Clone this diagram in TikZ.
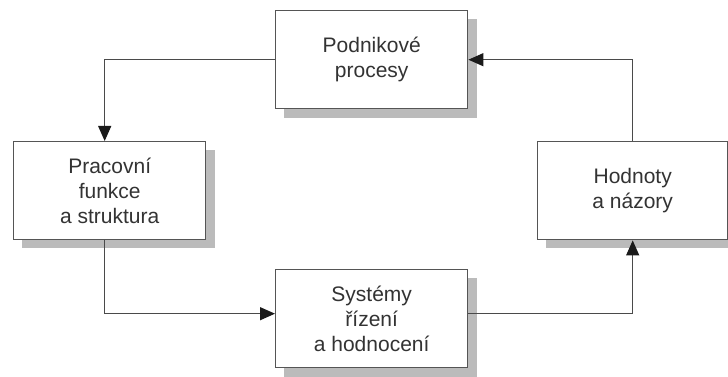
\documentclass[tikz,border=0pt]{standalone}
\usepackage{fontspec}
\setmainfont{Liberation Sans}
\usetikzlibrary{arrows.meta,calc}
\definecolor{edgegray}{HTML}{555555}
\definecolor{linegray}{HTML}{4A4A4A}
\definecolor{tipgray}{HTML}{1A1A1A}
\definecolor{shadowgray}{HTML}{BBBBBB}
\definecolor{textgray}{HTML}{333333}
\begin{document}
\begin{tikzpicture}[x=1pt,y=-1pt,
  box/.style={draw=edgegray,line width=1.4pt,fill=white,minimum width=192pt,
    minimum height=98pt,inner sep=0pt,align=center,text=textgray,
    font=\fontsize{21}{25}\selectfont,anchor=north west},
  shade/.style={fill=shadowgray,draw=none},
  flow/.style={draw=linegray,line width=1.2pt,
    -{Triangle[length=15pt,width=13pt,color=tipgray]}}]
  \useasboundingbox (0,0) rectangle (728,377);
  % drop shadows
  \fill[shade] (284,19) rectangle (477,118);
  \fill[shade] (22,150) rectangle (215,248);
  \fill[shade] (546,150) rectangle (740,248);
  \fill[shade] (284,278) rectangle (477,377);
  % boxes
  \node[box] (proc) at (275,10) {Podnikové\\procesy};
  \node[box] (prac) at (13,141) {Pracovní\\funkce\\a struktura};
  \node[box,minimum width=190pt] (hod) at (537,141) {Hodnoty\\a názory};
  \node[box] (sys) at (275,269) {Systémy\\řízení\\a hodnocení};
  % cycle of connectors
  \draw[flow] (proc.west) -| ([xshift=-5pt]prac.north);
  \draw[flow] ([xshift=-5pt]prac.south) |- ([yshift=5pt]sys.west);
  \draw[flow] ([yshift=5pt]sys.east) -| (hod.south);
  \draw[flow] (hod.north) |- (proc.east);
\end{tikzpicture}
\end{document}
